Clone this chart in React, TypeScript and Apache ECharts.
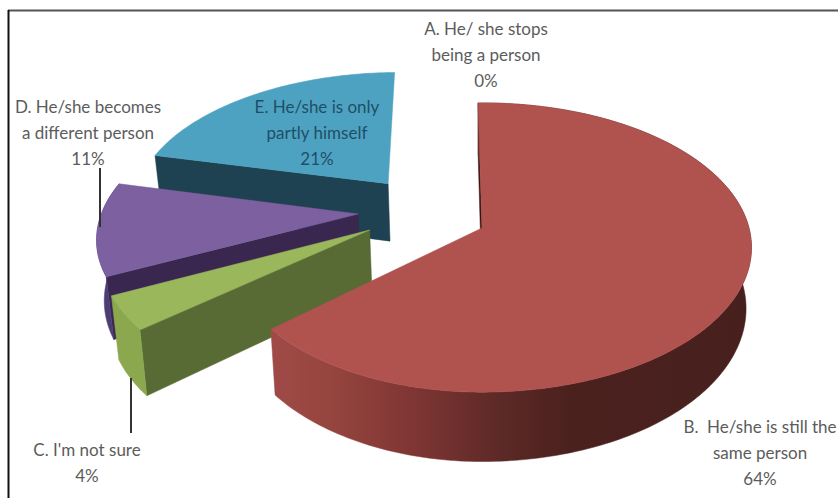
import React, { useEffect, useRef } from "react";
import * as echarts from "echarts";

const categories = [
  "A. He/ she stops\nbeing a person",
  "B.  He/she is still the\nsame person",
  "C. I'm not sure",
  "D. He/she becomes\na different person",
  "E. He/she is only\npartly himself",
];
const percents = [0, 64, 4, 11, 21];

// styling of the slices, same order as the categories
const topColors = ["#b0534e", "#b0534e", "#9ab75c", "#7d60a0", "#4ea2c1"];
const wallColors = ["#4a1f1d", "#3c1513", "#586b35", "#3a274f", "#1f4252"];
const rimColors = ["", "", "#8ba84f", "#4d3d75", ""];
const explodeU = [0, 0, -0.42, -0.47, -0.367];
const explodeV = [0, 0, -0.014, 0.1, 0.326];
const westScale = [1, 0.95, 0.985, 0.975, 0.975];
const depthScale = [1, 1, 0.985, 0.97, 0.96];

// label placement
const labelX = [486, 760, 87, 88, 317];
const labelY = [54, 452, 462, 132, 132];
const labelColors = ["#5c5c5c", "#5c5c5c", "#5c5c5c", "#5c5c5c", "#1f4f66"];

const START_DEG = -1;
const CX = 482;
const CY = 228;
const RX = 267;
const RY = 142;
const PERSP = 0.135;
const DEPTH = 60;
const SHRINK = 0.98;

const top = (u: number, v: number): number[] => {
  const s = 1 / (1 + PERSP * v);
  return [CX + RX * u * s, CY - RY * v * s];
};
const bottom = (u: number, v: number): number[] => {
  const s = 1 / (1 + PERSP * v);
  return [CX + RX * u * s * SHRINK, CY - RY * v * s + DEPTH * s];
};

const total = percents.reduce((a, b) => a + b, 0);
const starts: number[] = [];
percents.reduce((acc, p, i) => {
  starts[i] = acc;
  return acc + (p / total) * 360;
}, START_DEG);

// farthest slice first, so that the nearer ones overlap it
const rows = percents.map((p, i) => [i, p, starts[i]]).reverse();

const renderItem = (_params: any, api: any) => {
  const i = api.value(0);
  const p = api.value(1);
  const a0 = api.value(2);
  if (!p) return { type: "group", children: [] };
  const a1 = a0 + (p / total) * 360;
  const ou = explodeU[i];
  const ov = explodeV[i];
  const steps = Math.max(8, Math.ceil(a1 - a0));
  const topArc: number[][] = [];
  const botArc: number[][] = [];
  for (let k = 0; k <= steps; k++) {
    const t = ((a0 + ((a1 - a0) * k) / steps) * Math.PI) / 180;
    const su = Math.sin(t);
    const u = ou + (su < 0 ? su * westScale[i] : su);
    const v = ov + Math.cos(t) * depthScale[i];
    topArc.push(top(u, v));
    botArc.push(bottom(u, v));
  }
  const apexT = top(ou, ov);
  const apexB = bottom(ou, ov);
  const rimFill: any =
    i === 1
      ? new echarts.graphic.LinearGradient(0, 0, 1, 0, [
          { offset: 0, color: "#9f4a47" },
          { offset: 0.12, color: "#97453f" },
          { offset: 0.3, color: "#7e3533" },
          { offset: 0.48, color: "#5c2926" },
          { offset: 0.62, color: "#4b211e" },
          { offset: 1, color: "#47201d" },
        ])
      : rimColors[i];
  const poly = (points: number[][], fill: any) => ({
    type: "polygon",
    shape: { points },
    style: { fill, stroke: fill, lineWidth: 0.5 },
  });
  const children = [poly([apexT, topArc[0], botArc[0], apexB], wallColors[i])];
  if (rimFill) children.push(poly([...topArc, ...botArc.slice().reverse()], rimFill));
  children.push(poly([apexT, ...topArc], topColors[i]));
  return { type: "group", children };
};

export default function App() {
  const ref = useRef<HTMLDivElement>(null);
  useEffect(() => {
    document.body.style.margin = "0";
    const chart = echarts.init(ref.current!, null, { renderer: "svg" });
    const font = "Lato, 'Open Sans', sans-serif";
    const labels = categories.map((name, i) => ({
      type: "text",
      z: 10,
      style: {
        x: labelX[i],
        y: labelY[i],
        text: `${name}\n${percents[i]}%`,
        fontFamily: font,
        fontSize: 17,
        lineHeight: 26,
        fill: labelColors[i],
        align: "center",
        verticalAlign: "middle",
      },
    }));
    const rule = (x1: number, y1: number, x2: number, y2: number, stroke: string, lineWidth: number) => ({
      type: "line",
      z: 9,
      shape: { x1, y1, x2, y2 },
      style: { stroke, lineWidth },
    });
    chart.setOption({
      animation: false,
      backgroundColor: "#ffffff",
      series: [
        {
          type: "custom",
          coordinateSystem: "none",
          renderItem,
          clip: false,
          data: rows,
          silent: true,
        },
      ],
      graphic: [
        rule(8, 10.5, 838, 10.5, "#555555", 2),
        rule(8.5, 10, 8.5, 498, "#111111", 2),
        rule(100, 168, 100, 227, "#333333", 2),
        rule(131, 378, 131, 433, "#333333", 2),
        ...labels,
      ],
    });
    return () => chart.dispose();
  }, []);
  return <div ref={ref} style={{ width: 838, height: 498 }} />;
}
